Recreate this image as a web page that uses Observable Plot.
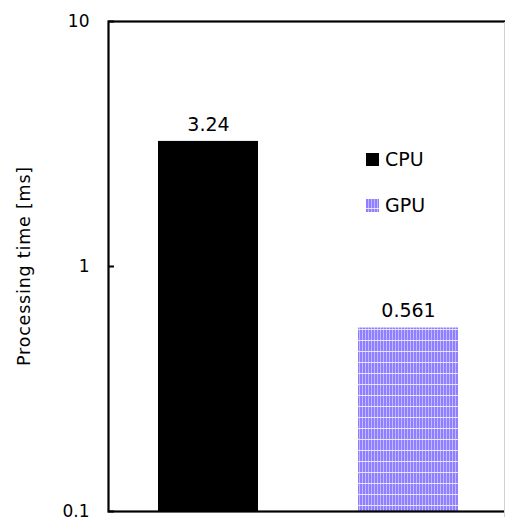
<!DOCTYPE html>
<html>
<head>
<meta charset="utf-8">
<script src="https://cdn.jsdelivr.net/npm/d3@7"></script>
<script src="https://cdn.jsdelivr.net/npm/@observablehq/plot@0.6"></script>
<style>
  html, body { margin: 0; padding: 0; background: #fff; }
  #chart { position: relative; width: 505px; height: 517px; overflow: hidden; }
</style>
</head>
<body>
<svg width="0" height="0" style="position:absolute">
  <defs>
    <pattern id="gpuPattern" patternUnits="userSpaceOnUse" width="3" height="11">
      <rect width="3" height="11" fill="#8f7eff"></rect>
      <rect x="2" width="1" height="11" fill="#c3b9ff"></rect>
      <rect y="10" width="3" height="1" fill="#e8e4ff"></rect>
    </pattern>
  </defs>
</svg>
<div id="chart"></div>
<script>
const categories = ["CPU", "GPU"];
const values = [3.24, 0.561];
const valueLabels = ["3.24", "0.561"];
const fills = ["#000000", "url(#gpuPattern)"];
const yTicks = [0.1, 1, 10];
const yTickLabels = ["0.1", "1", "10"];
const yLabel = "Processing time [ms]";

const data = categories.map((c, i) => ({cat: c, value: values[i], label: valueLabels[i], fill: fills[i]}));

const textFont = "'DejaVu Sans', sans-serif";

const chart = Plot.plot({
  width: 505,
  height: 517,
  marginTop: 21,
  marginBottom: 6,
  marginLeft: 108,
  marginRight: -3,
  style: {fontSize: "17px", fontFamily: textFont, color: "#000", background: "#fff", overflow: "hidden"},
  x: {domain: categories, paddingInner: 0.5, paddingOuter: 0.25, axis: null},
  y: {type: "log", domain: [0.1, 10], ticks: yTicks, label: null},
  marks: [
    ...data.map(d => Plot.barY([d], {x: "cat", y1: 0.1, y2: "value", fill: d.fill})),
    Plot.text(data, {x: "cat", y: "value", text: "label", dy: -17, fontSize: 19, fontFamily: textFont, fill: "#000"}),
    Plot.axisY({ticks: yTicks, tickFormat: (d) => yTickLabels[yTicks.indexOf(d)], tickSize: 0, tickPadding: 19, fontSize: 17, fontFamily: textFont, label: null}),
    Plot.axisY({ticks: yTicks, text: null, tickSize: -6, strokeWidth: 2, label: null}),
    Plot.frame({stroke: "#000", strokeWidth: 2.2})
  ]
});

document.getElementById("chart").appendChild(chart);

const svg = d3.select(chart);
// faint right border as in the reference image
svg.append("line")
  .attr("x1", 504.5).attr("x2", 504.5).attr("y1", 22).attr("y2", 517)
  .attr("stroke", "#d0d0d0").attr("stroke-width", 1);

// y-axis title
svg.append("text")
  .attr("transform", "translate(30,266) rotate(-90)")
  .attr("text-anchor", "middle")
  .attr("font-family", textFont)
  .attr("font-size", 17.5)
  .attr("letter-spacing", 0.8)
  .attr("fill", "#000")
  .text(yLabel);

// legend
const legend = svg.append("g");
categories.forEach((c, i) => {
  const y0 = 153 + i * 46;
  legend.append("rect").attr("x", 366).attr("y", y0).attr("width", 13).attr("height", 13).attr("fill", fills[i]);
  legend.append("text")
    .attr("x", 385).attr("y", y0 + 12.5)
    .attr("text-anchor", "start")
    .attr("font-family", textFont)
    .attr("font-size", 19)
    .attr("fill", "#000")
    .text(c);
});
</script>
</body>
</html>
